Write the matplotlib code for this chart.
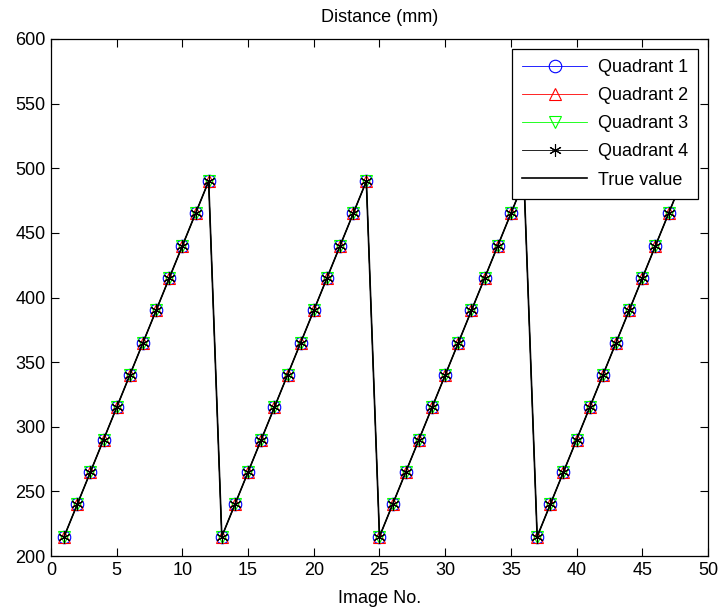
import numpy as np
import matplotlib.pyplot as plt

plt.rcParams['font.family'] = ['Liberation Sans', 'DejaVu Sans']

# image numbers 1..48, four sweeps of 12 images each
image_no = np.arange(1, 49)
sweep = [215, 240, 265, 290, 315, 340, 365, 390, 415, 440, 465, 490]
true_value = sweep * 4
quad1 = sweep * 4
quad2 = sweep * 4
quad3 = sweep * 4
quad4 = sweep * 4

fig = plt.figure(figsize=(7.22, 6.15), dpi=100)
ax = fig.add_axes([0.0706, 0.0959, 0.910, 0.8407])

ms = 9
ax.plot(image_no, quad1, 'b-o', lw=0.6, ms=ms, mfc='none', mew=0.8, label='Quadrant 1')
ax.plot(image_no, quad2, 'r-^', lw=0.6, ms=ms, mfc='none', mew=0.8, label='Quadrant 2')
ax.plot(image_no, quad3, '-v', color='#00ff00', lw=0.6, ms=ms, mfc='none', mew=0.8, label='Quadrant 3')
ax.plot(image_no, quad4, 'k-', marker=(6, 2, 0), lw=0.6, ms=ms, mew=0.8, label='Quadrant 4')
ax.plot(image_no, true_value, 'k-', lw=1.2, label='True value')

ax.set_xlim(0, 50)
ax.set_ylim(200, 600)
ax.set_xticks(np.arange(0, 51, 5))
ax.set_yticks(np.arange(200, 601, 50))
ax.tick_params(direction='in', length=6, labelsize=13, top=True, right=True,
               labeltop=False, labelright=False, pad=4)
for s in ax.spines.values():
    s.set_linewidth(0.9)
ax.set_xlabel('Image No.', fontsize=13, labelpad=8)
ax.set_title('Distance (mm)', fontsize=13, pad=12)

leg = ax.legend(loc='upper right', fontsize=13, fancybox=False, framealpha=1,
                edgecolor='black', borderaxespad=0.55, handlelength=3.6,
                handletextpad=0.6, labelspacing=0.62, borderpad=0.55)
leg.get_frame().set_linewidth(0.9)

fig.savefig('out.png', dpi=100)
